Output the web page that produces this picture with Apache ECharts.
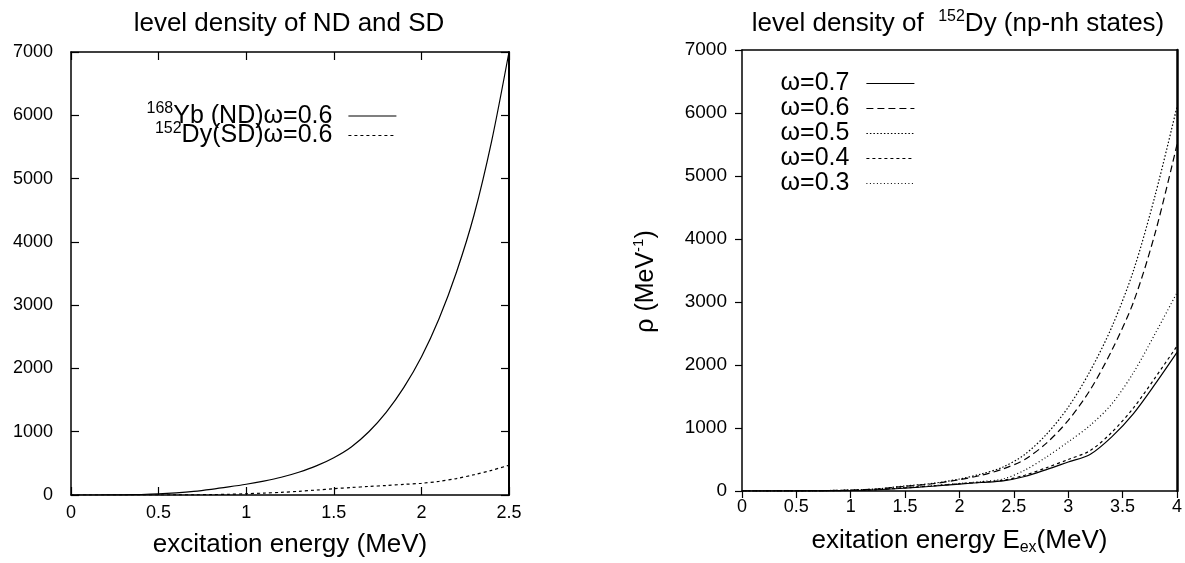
<!DOCTYPE html>
<html><head><meta charset="utf-8">
<script src="https://cdn.jsdelivr.net/npm/echarts@6/dist/echarts.min.js"></script>
<style>html,body{margin:0;padding:0;background:#fff}#c{width:1185px;height:563px}</style>
</head><body><div id="c"></div>
<script>
// ---- Left panel: level density of ND and SD ----
const leftEnergy = [0,0.1,0.2,0.3,0.4,0.5,0.6,0.7,0.8,0.9,1.0,1.1,1.2,1.3,1.4,1.5,1.6,1.7,1.8,1.9,2.0,2.1,2.2,2.3,2.4,2.5];
const ndYb168 = [0,0,1,3,8,18,35,58,90,128,170,220,280,360,460,590,760,1000,1310,1700,2180,2780,3520,4420,5580,7000];
const sdDy152 = [0,0,0,0,0,0,1,3,6,11,20,30,42,58,78,100,118,135,150,168,185,215,260,320,390,470];
const leftNames = ['168Yb (ND)ω=0.6', '152Dy(SD)ω=0.6'];
const leftLegendRich = ['{sup|168}{t|Yb (ND)ω=0.6}', '{sup|152}{t|Dy(SD)ω=0.6}'];
const leftXTicks = [0, 0.5, 1, 1.5, 2, 2.5];
const leftYTicks = [0, 1000, 2000, 3000, 4000, 5000, 6000, 7000];

// ---- Right panel: level density of 152Dy (np-nh states) ----
const rightEnergy = [0,0.5,1.0,1.25,1.5,1.75,2.0,2.2,2.4,2.6,2.8,3.0,3.2,3.4,3.6,3.8,4.0];
const w07 = [0,1,8,20,45,75,110,135,160,230,340,460,580,860,1230,1700,2200];
const w06 = [0,2,14,33,75,115,180,250,350,500,760,1120,1600,2230,3000,4100,5500];
const w05 = [0,2,15,35,80,120,190,270,380,580,900,1330,1900,2600,3500,4700,6100];
const w04 = [0,1,9,22,50,80,115,140,170,250,370,500,640,930,1320,1800,2300];
const w03 = [0,1,10,25,55,85,120,150,190,330,540,780,1040,1380,1880,2500,3150];
const rightNames = ['ω=0.7', 'ω=0.6', 'ω=0.5', 'ω=0.4', 'ω=0.3'];
const rightXTicks = [0, 0.5, 1, 1.5, 2, 2.5, 3, 3.5, 4];
const rightYTicks = [0, 1000, 2000, 3000, 4000, 5000, 6000, 7000];

const FONT = 'Liberation Sans, Arial, sans-serif';
const zip = (xs, ys) => xs.map((x, i) => [x, ys[i]]);

function lineSeries(name, xs, ys, idx, type) {
  return {
    name, type: 'line', data: zip(xs, ys), xAxisIndex: idx, yAxisIndex: idx,
    symbol: 'none', smooth: 0.3, silent: true, color: '#000',
    itemStyle: { color: '#000' },
    lineStyle: { color: '#000', width: 1.2, type: type }
  };
}

const axisLineStyle = (w) => ({ show: true, onZero: false, lineStyle: { color: '#000', width: w } });
const tickLabel = (size) => ({ color: '#000', fontFamily: FONT, fontSize: size, formatter: (v) => String(v) });
const hiddenSymbol = { color: 'rgba(0,0,0,0)', borderColor: 'rgba(0,0,0,0)', borderWidth: 0, opacity: 0 };

const chart = echarts.init(document.getElementById('c'), null, { renderer: 'canvas' });
chart.setOption({
  animation: false,
  backgroundColor: '#fff',
  title: [
    { text: 'level density of ND and SD', left: 289, top: 11, textAlign: 'center', padding: 0,
      textStyle: { fontFamily: FONT, fontSize: 26, fontWeight: 'normal', color: '#000' } },
    { text: '{n|level density of  }{sup|152}{n|Dy (np-nh states)}', left: 958, top: 9, textAlign: 'center', padding: 0,
      textStyle: { fontFamily: FONT, fontSize: 26, fontWeight: 'normal', color: '#000',
        rich: { n: { fontFamily: FONT, fontSize: 26, lineHeight: 30, color: '#000' },
                sup: { fontFamily: FONT, fontSize: 16, lineHeight: 16, verticalAlign: 'top', color: '#000' } } } }
  ],
  grid: [
    { left: 71, top: 52, width: 438, height: 446, containLabel: false },
    { left: 742, top: 50, width: 439, height: 441, containLabel: false }
  ],
  legend: [
    { data: leftNames, orient: 'vertical', right: 788, top: 101, padding: 0, align: 'right',
      itemWidth: 48, itemHeight: 14, itemGap: -8, selectedMode: false,
      lineStyle: { width: 1.2, color: '#000' }, itemStyle: hiddenSymbol,
      formatter: (name) => leftLegendRich[leftNames.indexOf(name)],
      textStyle: { fontFamily: FONT, fontSize: 25, color: '#000', padding: [0, 11, 0, 0],
        rich: { t: { fontFamily: FONT, fontSize: 25, lineHeight: 30, color: '#000' },
                sup: { fontFamily: FONT, fontSize: 16, lineHeight: 16, verticalAlign: 'top', color: '#000' } } } },
    { data: rightNames, orient: 'vertical', right: 270, top: 71, padding: 0, align: 'right',
      itemWidth: 48, itemHeight: 14, itemGap: 0, selectedMode: false,
      lineStyle: { width: 1.2, color: '#000' }, itemStyle: hiddenSymbol,
      textStyle: { fontFamily: FONT, fontSize: 25, lineHeight: 23, color: '#000', padding: [0, 12, 0, 0] } }
  ],
  xAxis: [
    { gridIndex: 0, type: 'value', position: 'bottom', min: 0, max: 2.5, interval: 0.5,
      axisLine: axisLineStyle(1.5), splitLine: { show: false },
      axisTick: { show: true, inside: true, length: 8, lineStyle: { color: '#000', width: 1.2 } },
      axisLabel: Object.assign({ margin: 9, customValues: leftXTicks }, tickLabel(18)),
      name: 'excitation energy (MeV)', nameLocation: 'middle', nameGap: 37,
      nameTextStyle: { fontFamily: FONT, fontSize: 26, color: '#000' } },
    { gridIndex: 0, type: 'value', position: 'top', min: 0, max: 2.5, interval: 0.5,
      axisLine: axisLineStyle(1.5), splitLine: { show: false },
      axisTick: { show: true, inside: true, length: 8, lineStyle: { color: '#000', width: 1.2 } },
      axisLabel: { show: false } },
    { gridIndex: 1, type: 'value', position: 'bottom', min: 0, max: 4, interval: 0.5,
      axisLine: axisLineStyle(1.5), splitLine: { show: false },
      axisTick: { show: true, inside: false, length: 7, lineStyle: { color: '#000', width: 1.2 } },
      axisLabel: Object.assign({ margin: 7, customValues: rightXTicks }, tickLabel(18)),
      name: '{n|exitation energy E}{sub|ex}{n|(MeV)}', nameLocation: 'middle', nameGap: 35,
      nameTextStyle: { fontFamily: FONT, fontSize: 26, color: '#000',
        rich: { n: { fontFamily: FONT, fontSize: 26, lineHeight: 30, color: '#000' },
                sub: { fontFamily: FONT, fontSize: 16, lineHeight: 16, verticalAlign: 'bottom', color: '#000' } } } },
    { gridIndex: 1, type: 'value', position: 'top', min: 0, max: 4, interval: 0.5,
      axisLine: axisLineStyle(1.5), splitLine: { show: false },
      axisTick: { show: false }, axisLabel: { show: false } }
  ],
  yAxis: [
    { gridIndex: 0, type: 'value', position: 'left', min: 0, max: 7000, interval: 1000,
      axisLine: axisLineStyle(1.5), splitLine: { show: false },
      axisTick: { show: true, inside: true, length: 8, lineStyle: { color: '#000', width: 1.2 } },
      axisLabel: Object.assign({ margin: 18, customValues: leftYTicks }, tickLabel(18)) },
    { gridIndex: 0, type: 'value', position: 'right', min: 0, max: 7000, interval: 1000,
      axisLine: axisLineStyle(2), splitLine: { show: false },
      axisTick: { show: true, inside: true, length: 8, lineStyle: { color: '#000', width: 1.2 } },
      axisLabel: { show: false } },
    { gridIndex: 1, type: 'value', position: 'left', min: 0, max: 7000, interval: 1000,
      axisLine: axisLineStyle(1.5), splitLine: { show: false },
      axisTick: { show: true, inside: false, length: 7, lineStyle: { color: '#000', width: 1.2 } },
      axisLabel: Object.assign({ margin: 15, customValues: rightYTicks }, tickLabel(19)),
      name: '{n|ρ (MeV}{sup|-1}{n|)}', nameLocation: 'middle', nameRotate: 90, nameGap: 81,
      nameTextStyle: { fontFamily: FONT, fontSize: 25, color: '#000', padding: [0, 22, 0, 0],
        rich: { n: { fontFamily: FONT, fontSize: 25, lineHeight: 30, color: '#000' },
                sup: { fontFamily: FONT, fontSize: 15, lineHeight: 15, verticalAlign: 'top', color: '#000' } } } },
    { gridIndex: 1, type: 'value', position: 'right', min: 0, max: 7000, interval: 1000,
      axisLine: axisLineStyle(2.5), splitLine: { show: false },
      axisTick: { show: false }, axisLabel: { show: false } }
  ],
  series: [
    lineSeries(leftNames[0], leftEnergy, ndYb168, 0, 'solid'),
    lineSeries(leftNames[1], leftEnergy, sdDy152, 0, [3, 3]),
    Object.assign(lineSeries(rightNames[0], rightEnergy, w07, 2, 'solid'), { yAxisIndex: 2 }),
    Object.assign(lineSeries(rightNames[1], rightEnergy, w06, 2, [7, 4]), { yAxisIndex: 2 }),
    Object.assign(lineSeries(rightNames[2], rightEnergy, w05, 2, [1.5, 2]), { yAxisIndex: 2 }),
    Object.assign(lineSeries(rightNames[3], rightEnergy, w04, 2, [3, 3]), { yAxisIndex: 2 }),
    Object.assign(lineSeries(rightNames[4], rightEnergy, w03, 2, [1, 2.5]), { yAxisIndex: 2 })
  ]
});
</script></body></html>
